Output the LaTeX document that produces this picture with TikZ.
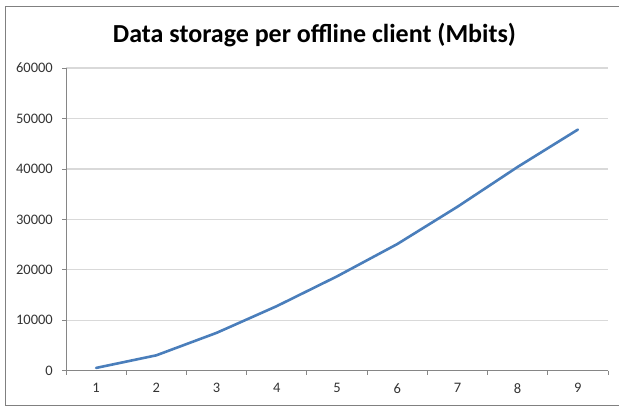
\documentclass[tikz,border=0pt]{standalone}
\usepackage{fontspec}
\setmainfont{Carlito}
\usepackage{xcolor}
\definecolor{ColLine}{RGB}{74,126,187}
\definecolor{ColGrid}{RGB}{217,217,217}
\definecolor{ColAxis}{RGB}{134,134,134}
\definecolor{ColFrame}{RGB}{128,128,128}
\tikzstyle{FrameLine}=[draw=ColFrame,line width=1pt]
\tikzstyle{GridLine}=[ColGrid,line width=1.3pt]
\tikzstyle{AxisLine}=[ColAxis,line width=0.8pt]
\tikzstyle{TickLabel}=[font=\fontsize{14.5}{14.5}\selectfont,text=black!80,inner sep=0pt]
\tikzstyle{DataLine}=[ColLine,line width=2.6pt,line join=round,line cap=round]
\tikzstyle{TitleNode}=[font=\fontsize{26}{27}\selectfont\bfseries,inner sep=0pt]
\begin{document}
\begin{tikzpicture}[x=1pt,y=1pt]
    \useasboundingbox(0,0)rectangle(619,407);
    \draw[FrameLine](625,400)--(5.5,400)--(5.5,1.5)--(625,1.5);
    \node[TitleNode,anchor=base](title)at(314.5,364.5){Data storage per offline client (Mbits)};
    \begin{scope}[shift={(66,36.3)},x=60.22pt,y=5.044pt]
        % gridlines and value axis
        \foreach \v in {10,20,...,60}
            \draw[GridLine](0,\v)--(9,\v);
        \foreach \v/\lab in {0/0,10/10000,20/20000,30/30000,40/40000,50/50000,60/60000}{
            \draw[AxisLine](0,\v)--++(-4pt,0);
            \node[TickLabel,anchor=east,xshift=-13pt](ylab\v)at(0,\v){\lab};
        }
        \draw[AxisLine](0,60)--(0,0)--(9,0);
        % category axis
        \foreach \k in {0,...,9}
            \draw[AxisLine](\k,0)--++(0,-4pt);
        \foreach \k in {1,...,9}
            \node[TickLabel,yshift=-17.5pt](xlab\k)at(\k-0.5,0){\k};
        % data
        \draw[DataLine]plot coordinates{(0.5,0.55)(1.5,3.05)(2.5,7.5)(3.5,12.8)(4.5,18.7)
            (5.5,25.1)(6.5,32.5)(7.5,40.4)(8.5,47.8)};
    \end{scope}
\end{tikzpicture}
\end{document}
